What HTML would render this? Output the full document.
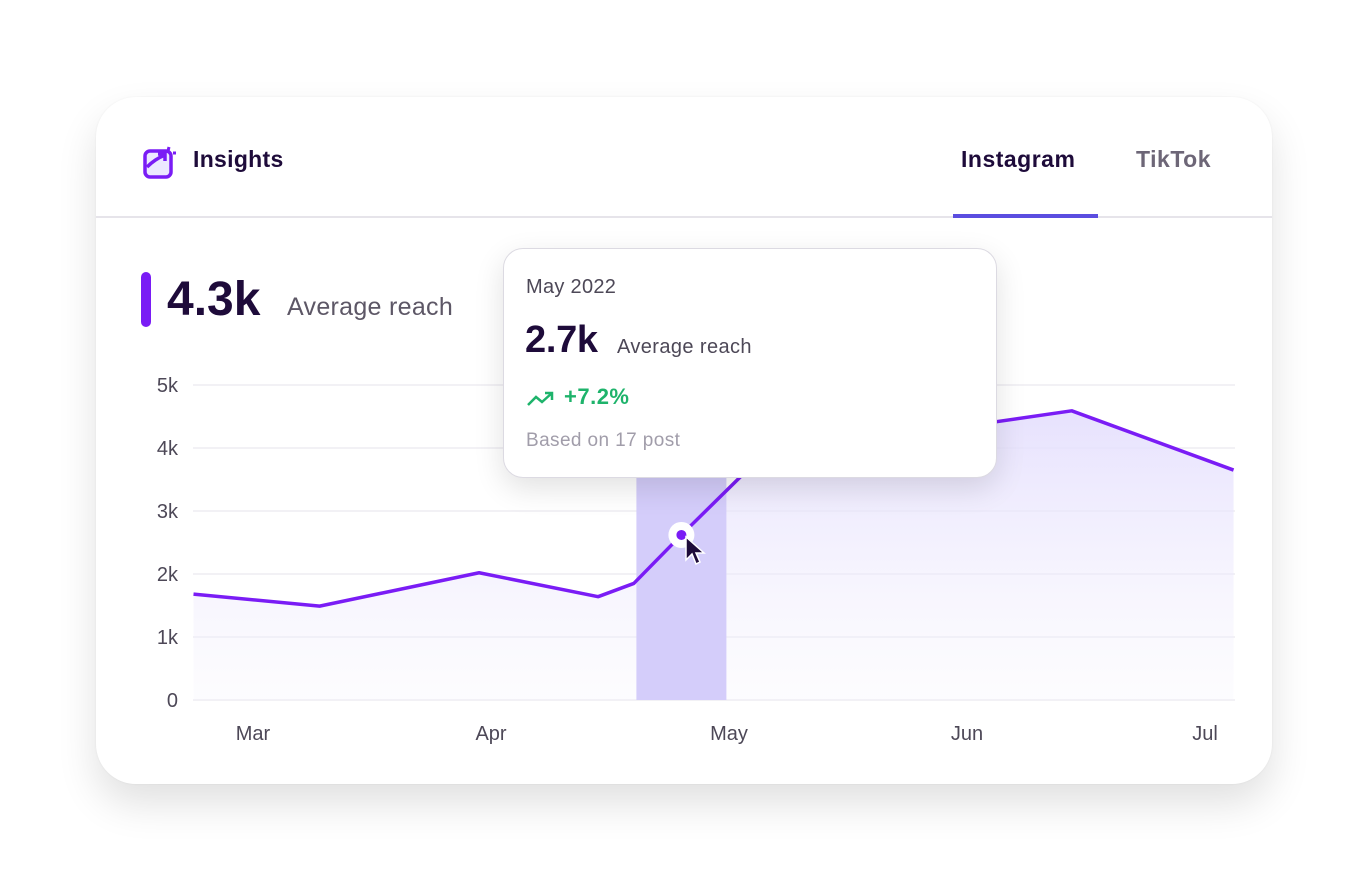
<!DOCTYPE html>
<html><head><meta charset="utf-8"><style>
body{margin:0;width:1368px;height:881px;background:#fff;font-family:"Liberation Sans",sans-serif;position:relative;overflow:hidden}
.card{position:absolute;left:96px;top:97px;width:1176px;height:687px;border-radius:40px;background:#fff;box-shadow:0 20px 40px rgba(0,0,0,0.12),0 0 2px rgba(0,0,0,0.06)}
.abs{position:absolute}
</style></head><body>
<div class="card"></div>
<svg class="abs" style="left:143px;top:145px" width="34" height="34">
<rect x="2" y="6" width="26" height="26" rx="5" fill="#ece8ff" stroke="#7a1cf5" stroke-width="3.5"/>
<path d="M4 22 Q12 14 22 10 M15 9 H22 V16" fill="none" stroke="#7a1cf5" stroke-width="3.5"/>
<path d="M26 2 L25 6 M30 8 L33 8" stroke="#7a1cf5" stroke-width="3"/></svg>
<div class="abs" style="left:193px;top:146px;font-size:23px;font-weight:bold;color:#1e0b3a;letter-spacing:0.3px">Insights</div>
<div class="abs" style="left:961px;top:146px;font-size:23px;font-weight:bold;color:#1e0b3a;letter-spacing:0.5px">Instagram</div>
<div class="abs" style="left:1136px;top:146px;font-size:23px;font-weight:bold;color:#6d6677;letter-spacing:0.5px">TikTok</div>
<div class="abs" style="left:96px;top:216px;width:1176px;height:2px;background:#e6e4ea"></div>
<div class="abs" style="left:953px;top:214px;width:145px;height:4px;background:#5b4de0"></div>
<div class="abs" style="left:141px;top:272px;width:10px;height:55px;border-radius:5px;background:#7a1cf5"></div>
<div class="abs" style="left:167px;top:272px;font-size:48px;font-weight:bold;color:#1e0b3a;letter-spacing:0px">4.3k</div>
<div class="abs" style="left:287px;top:293px;font-size:25px;color:#5d5766;letter-spacing:0.3px">Average reach</div>
<svg id="chart" class="abs" style="left:0;top:0" width="1368" height="881"></svg>
<div class="abs" style="left:503px;top:248px;width:492px;height:228px;border-radius:20px;background:#fff;border:1px solid #dcdae2;box-shadow:0 10px 30px rgba(0,0,0,0.12)">
<div class="abs" style="left:22px;top:27px;font-size:20px;color:#4d4857;letter-spacing:0.3px">May 2022</div>
<div class="abs" style="left:21px;top:70px;font-size:38px;font-weight:bold;color:#1e0b3a;letter-spacing:-0.3px">2.7k</div>
<div class="abs" style="left:113px;top:87px;font-size:20px;color:#4d4857;letter-spacing:0.4px">Average reach</div>
<svg class="abs" style="left:22px;top:140px" width="30" height="20"><path d="M2 16 L10 8 L16 13 L26 4 M19 4 H26 V11" fill="none" stroke="#1eb36b" stroke-width="2.5"/></svg>
<div class="abs" style="left:60px;top:135px;font-size:22px;font-weight:bold;color:#1eb36b;letter-spacing:0.5px">+7.2%</div>
<div class="abs" style="left:22px;top:181px;font-size:19px;color:#a19daa;letter-spacing:0.4px">Based on 17 post</div>
</div>
<svg class="abs" style="left:683px;top:535px" width="24" height="34"><path d="M3 2 L3 25 L9 19 L13 29 L17 27 L13 18 L21 18 Z" fill="#1e0b3a" stroke="#fff" stroke-width="1.5"/></svg>
<script>
const yTicks=[0,1,2,3,4,5];
const yTickLabels=["0","1k","2k","3k","4k","5k"];
const months=["Mar","Apr","May","Jun","Jul"];
const seriesX=[-0.25,0.28,0.95,1.45,1.6,1.8,2.05,2.6,3.0,3.44,4.12];
const seriesY=[1.68,1.49,2.02,1.64,1.85,2.62,3.55,4.2,4.35,4.59,3.65];
const hoverIndex=5;
const NS="http://www.w3.org/2000/svg";
const svg=document.getElementById('chart');
const X=m=>253+m*238;
const Y=v=>700-v*63;
function mk(t,a){const e=document.createElementNS(NS,t);for(const k in a)e.setAttribute(k,a[k]);svg.appendChild(e);return e;}
const defs=mk('defs',{});
defs.innerHTML='<linearGradient id="g" x1="0" y1="0" x2="0" y2="1"><stop offset="0" stop-color="#e4defd" stop-opacity="0.9"/><stop offset="1" stop-color="#f3f1fd" stop-opacity="0.2"/></linearGradient>';
yTicks.forEach((t,i)=>{
 const l=mk('line',{x1:193,x2:1235,y1:Y(t),y2:Y(t),stroke:'#f2f1f5','stroke-width':2});
 
 
 const tx=mk('text',{x:178,y:Y(t)+7,'text-anchor':'end','font-size':20,fill:'#4d4857','font-family':'Liberation Sans'});
 tx.textContent=yTickLabels[i];
 
 
});
months.forEach((m,i)=>{
 const tx=mk('text',{x:i==4?1205:X(i),y:740,'text-anchor':'middle','font-size':20,fill:'#4d4857','font-family':'Liberation Sans'});
 tx.textContent=m;
 
 
});
const pts=seriesX.map((x,i)=>[X(x),Y(seriesY[i])]);
const d='M'+pts.map(p=>p.join(',')).join(' L');
const area=mk('path',{d:d+` L${pts[pts.length-1][0]},700 L${pts[0][0]},700 Z`,fill:'url(#g)'});


const hx=X(seriesX[hoverIndex]);
const band=mk('rect',{x:hx-45,y:Y(seriesY[hoverIndex])-60,width:90,height:700-Y(seriesY[hoverIndex])+60,fill:'#d4cdfa'});


const line=mk('path',{d:d,fill:'none',stroke:'#7a1cf5','stroke-width':3.5,'stroke-linejoin':'round'});


const c1=mk('circle',{cx:hx,cy:Y(seriesY[hoverIndex]),r:13,fill:'#fff'});


const c2=mk('circle',{cx:hx,cy:Y(seriesY[hoverIndex]),r:5,fill:'#7a1cf5'});


</script>
</body></html>
